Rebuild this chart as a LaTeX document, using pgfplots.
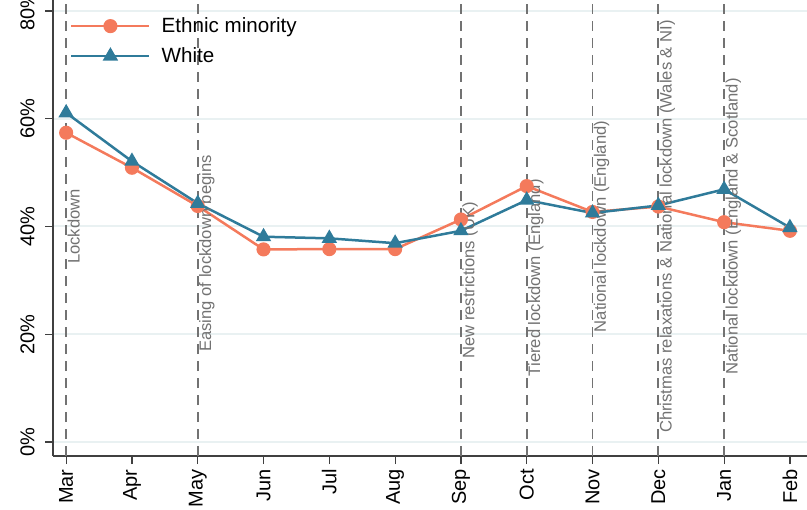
\documentclass[border=0pt]{standalone}
\usepackage{pgfplots}
\pgfplotsset{compat=1.18}
\usepackage{fontspec}
\setmainfont{Liberation Sans}

\definecolor{ethnic}{HTML}{F47A5C}
\definecolor{whitegrp}{HTML}{2F7B9A}
\definecolor{gridc}{HTML}{E9F1F2}
\definecolor{evline}{HTML}{727272}

\begin{document}
\begin{tikzpicture}
\begin{axis}[
    scale only axis,
    width=377pt, height=228pt,
    xmin=-0.2, xmax=11.26,
    ymin=-2.6, ymax=82.04,
    axis lines=left,
    axis line style={-, draw=black!75, line width=0.6pt},
    xtick={0,1,...,11},
    xticklabels={Mar,Apr,May,Jun,Jul,Aug,Sep,Oct,Nov,Dec,Jan,Feb},
    ytick={0,20,40,60,80},
    yticklabels={0\%,20\%,40\%,60\%,80\%},
    tick align=outside,
    major tick length=4pt,
    tick style={draw=black!75, line width=0.6pt},
    xticklabel style={rotate=90, anchor=east, inner sep=0pt, font=\fontsize{10}{12}\selectfont},
    yticklabel style={rotate=90, anchor=south, inner sep=0pt, font=\fontsize{10}{12}\selectfont},
    xticklabel shift=2.5pt,
    yticklabel shift=5pt,
    ymajorgrids,
    grid style={draw=gridc, line width=1pt},
    legend style={at={(axis description cs:0.0143,0.972)}, anchor=north west,
        draw=none, fill=none, font=\fontsize{10.3}{12}\selectfont,
        nodes={inner sep=0pt}, column sep=5.5pt, row sep=6pt},
    legend cell align=left,
    legend image code/.code={\draw[mark repeat=2,mark phase=2,#1] plot coordinates {(0pt,0pt) (19.5pt,0pt) (39pt,0pt)};},
]
% event lines
\pgfplotsinvokeforeach{0,2,6,7,8,9,10}{
  \addplot[forget plot, draw=evline, line width=0.9pt, dash pattern=on 5pt off 3.5pt] coordinates {(#1,-2.6) (#1,82.04)};
}

\addplot[ethnic, line width=1.25pt, mark=*, mark size=2.9pt, mark options={solid, fill=ethnic, draw=ethnic}] coordinates {
    (0,57.4) (1,50.9) (2,43.8) (3,35.75) (4,35.8) (5,35.8)
    (6,41.3) (7,47.5) (8,42.7) (9,43.7) (10,40.8) (11,39.2)
};
\addlegendentry{Ethnic minority}
\addplot[whitegrp, line width=1.25pt, mark=triangle*, mark size=3.2pt, mark options={solid, fill=whitegrp, draw=whitegrp}] coordinates {
    (0,61.1) (1,52.1) (2,44.3) (3,38.1) (4,37.8) (5,36.9)
    (6,39.2) (7,44.9) (8,42.5) (9,43.9) (10,46.9) (11,39.8)
};
\addlegendentry{White}

% event labels
\begin{scope}[every node/.style={rotate=90, anchor=north, inner sep=0pt, text=evline, font=\fontsize{8.3}{10}\selectfont}]
\node at (axis cs:0.015,40) {Lockdown};
\node at (axis cs:2.015,35) {Easing of lockdown begins};
\node at (axis cs:6.015,30) {New restrictions (UK)};
\node at (axis cs:7.015,30.5) {Tiered lockdown (England)};
\node at (axis cs:8.015,40) {National lockdown (England)};
\node at (axis cs:9.015,40) {Christmas relaxations \& National lockdown (Wales \& NI)};
\node at (axis cs:10.015,40) {National lockdown (England \& Scotland)};
\end{scope}
\end{axis}
\pgfresetboundingbox
\path[use as bounding box] (current axis.south west) ++(-26.5pt,-26.5pt) rectangle (current axis.north east);
\end{tikzpicture}
\end{document}
